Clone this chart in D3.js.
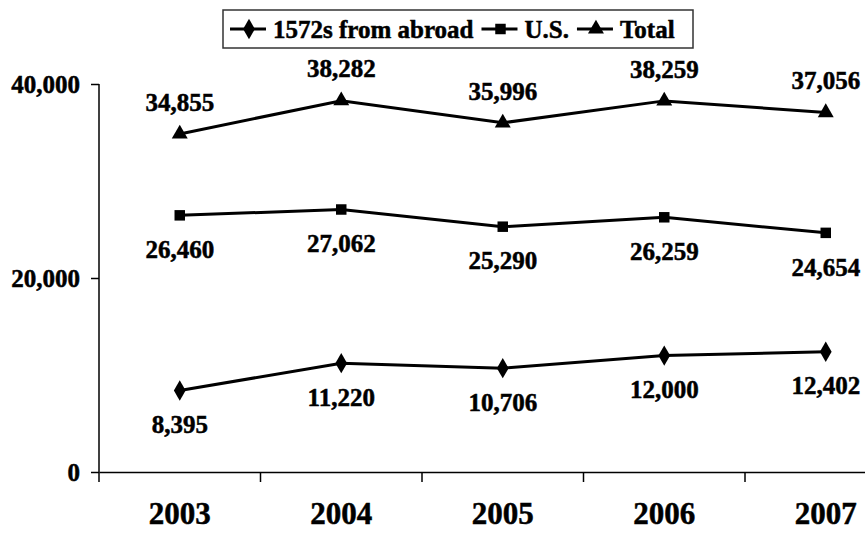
<!DOCTYPE html>
<html>
<head>
<meta charset="utf-8">
<script src="https://cdn.jsdelivr.net/npm/d3@7"></script>
<style>
  body { margin: 0; background: #fff; }
  svg text { font-family: "Times New Roman", Times, "Liberation Serif", Tinos, serif !important; font-weight: 700; fill: #000; stroke: #000; stroke-width: 0.5px; }
</style>
</head>
<body>
<div id="chart"></div>
<script>
// data
var years = ["2003", "2004", "2005", "2006", "2007"];
var abroad = [8395, 11220, 10706, 12000, 12402];
var us = [26460, 27062, 25290, 26259, 24654];
var total = [34855, 38282, 35996, 38259, 37056];
var yTicks = [0, 20000, 40000];

var series = [
  {name: "1572s from abroad", values: abroad, symbol: d3.symbolDiamond, size: 120, labelPos: "below"},
  {name: "U.S.", values: us, symbol: d3.symbolSquare, size: 110, labelPos: "below"},
  {name: "Total", values: total, symbol: d3.symbolTriangle, size: 110, labelPos: "above"}
];

var width = 865, height = 533;
var svg = d3.select("#chart").append("svg")
  .attr("width", width)
  .attr("height", height);

// scales
var x = d3.scaleBand().domain(years).range([99, 906.5]);
var y = d3.scaleLinear().domain([0, 40000]).range([472, 84]);
var fmt = d3.format(",");

// y axis
var yAxis = svg.append("g")
  .attr("transform", "translate(99,0)")
  .call(d3.axisLeft(y).tickValues(yTicks).tickFormat(fmt).tickSize(8).tickPadding(11));
yAxis.attr("font-family", null);
yAxis.select(".domain").attr("d", "M0," + y(40000) + "V482").attr("stroke", "#000").attr("stroke-width", 1.5);
yAxis.selectAll(".tick line").attr("stroke", "#000").attr("stroke-width", 1.5);
yAxis.selectAll(".tick text").style("font-size", "25px").attr("dy", "0.35em");

// x axis
var xAxis = svg.append("g")
  .attr("transform", "translate(0," + y(0) + ")")
  .call(d3.axisBottom(x).tickSize(0).tickPadding(41));
xAxis.attr("font-family", null);
xAxis.select(".domain").attr("stroke", "#000").attr("stroke-width", 1.5);
xAxis.selectAll(".tick text").style("font-size", "31px").attr("dy", "0.35em");
// ticks between categories
xAxis.selectAll(".sep").data(years.slice(1)).enter().append("line")
  .attr("x1", function(d) { return x(d); })
  .attr("x2", function(d) { return x(d); })
  .attr("y1", 0).attr("y2", 10)
  .attr("stroke", "#000").attr("stroke-width", 1.5);

var cx = function(i) { return x(years[i]) + x.bandwidth() / 2; };

var line = d3.line()
  .x(function(d, i) { return cx(i); })
  .y(function(d) { return y(d); });

series.forEach(function(s) {
  svg.append("path")
    .datum(s.values)
    .attr("d", line)
    .attr("fill", "none")
    .attr("stroke", "#000")
    .attr("stroke-width", 3);

  svg.selectAll(null).data(s.values).enter().append("path")
    .attr("d", d3.symbol().type(s.symbol).size(s.size))
    .attr("transform", function(d, i) { return "translate(" + cx(i) + "," + y(d) + ")"; })
    .attr("fill", "#000");

  svg.selectAll(null).data(s.values).enter().append("text")
    .attr("x", function(d, i) { return cx(i); })
    .attr("y", function(d) { return y(d) + (s.labelPos === "above" ? -32 : 34); })
    .attr("dy", "0.35em")
    .attr("text-anchor", "middle")
    .style("font-size", "25px")
    .text(function(d) { return fmt(d); });
});

// legend
var legend = svg.append("g");
legend.append("rect")
  .attr("x", 223).attr("y", 10)
  .attr("width", 470).attr("height", 38)
  .attr("fill", "#fff").attr("stroke", "#333").attr("stroke-width", 1.5);

var lx = 230;
series.forEach(function(s) {
  legend.append("line")
    .attr("x1", lx).attr("x2", lx + 36)
    .attr("y1", 29).attr("y2", 29)
    .attr("stroke", "#000").attr("stroke-width", 3);
  legend.append("path")
    .attr("d", d3.symbol().type(s.symbol).size(s.size))
    .attr("transform", "translate(" + (lx + 19) + ",29)")
    .attr("fill", "#000");
  var t = legend.append("text")
    .attr("x", lx + 43).attr("y", 29)
    .attr("dy", "0.35em")
    .style("font-size", "25px")
    .text(s.name);
  lx += 43 + t.node().getComputedTextLength() + 8;
});
</script>
</body>
</html>
